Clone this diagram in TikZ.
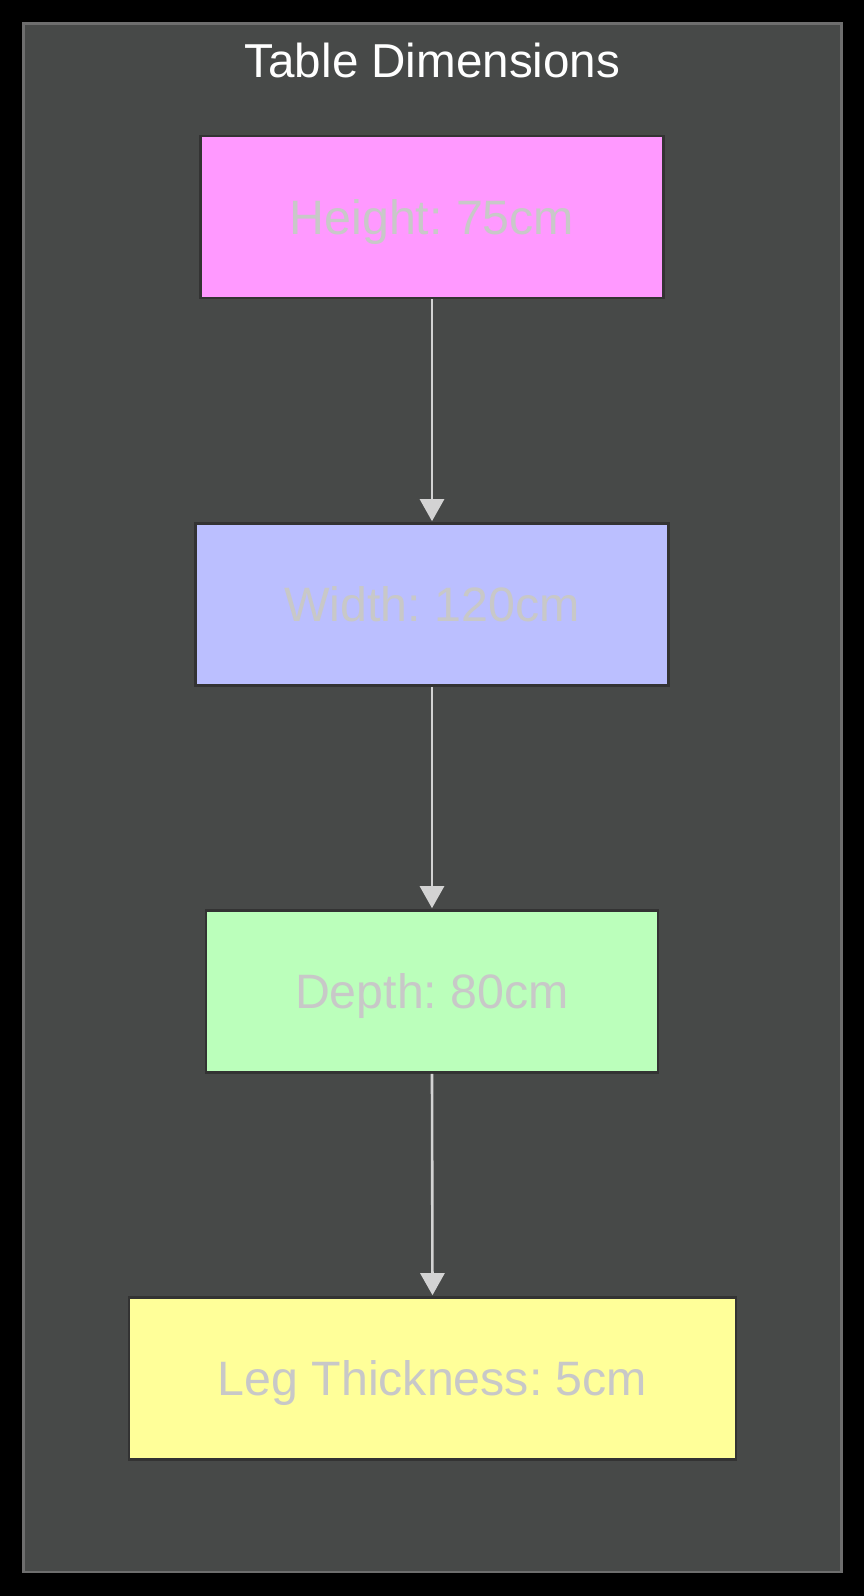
\documentclass[tikz,border=0pt]{standalone}
\usepackage{fontspec}
\setmainfont{Liberation Sans}
\frenchspacing
\usetikzlibrary{arrows.meta}
\definecolor{pagebg}{HTML}{000000}
\definecolor{groupfill}{HTML}{474948}
\definecolor{groupline}{HTML}{6E6E6E}
\definecolor{boxline}{HTML}{333333}
\definecolor{labelgray}{HTML}{C8C8C8}
\definecolor{linkgray}{HTML}{D3D3D3}
\definecolor{pinkfill}{HTML}{FF99FF}
\definecolor{bluefill}{HTML}{BBBFFF}
\definecolor{greenfill}{HTML}{BBFFBB}
\definecolor{yellowfill}{HTML}{FFFF99}
\tikzset{
  dimbox/.style={draw=boxline, line width=2.6pt, minimum height=162pt, inner sep=0pt,
    text=labelgray, text height=34.5pt, text depth=0pt,
    font=\fontsize{48.3}{58}\selectfont},
  link/.style={draw=linkgray, line width=2.6pt,
    -{Triangle[length=22pt,width=24pt]}, shorten >=1pt},
}
\begin{document}
\begin{tikzpicture}[x=1pt, y=-1pt]
  % page and group frame
  \fill[pagebg] (0,0) rectangle (864,1596);
  \useasboundingbox (0,0) rectangle (864,1596);
  \draw[groupline, fill=groupfill, line width=2.4pt] (23.5,23.5) rectangle (841.5,1572);
  \node[anchor=base, text=white, inner sep=0pt, font=\fontsize{47.6}{56}\selectfont]
    (title) at (432.5,77) {Table Dimensions};

  % dimension boxes
  \node[dimbox, fill=pinkfill,   minimum width=463pt] (h) at (432,217)    {Height: 75cm};
  \node[dimbox, fill=bluefill,   minimum width=473pt] (w) at (432,604.5)  {Width: 120cm};
  \node[dimbox, fill=greenfill,  minimum width=452pt] (d) at (432,991.5)  {Depth: 80cm};
  \node[dimbox, fill=yellowfill, minimum width=607pt] (l) at (432.5,1378.5) {Leg Thickness: 5cm};

  % links
  \draw[link] (h.south) -- (w.north);
  \draw[link] (w.south) -- (d.north);
  \draw[link] (d.south) -- (l.north);
\end{tikzpicture}
\end{document}
